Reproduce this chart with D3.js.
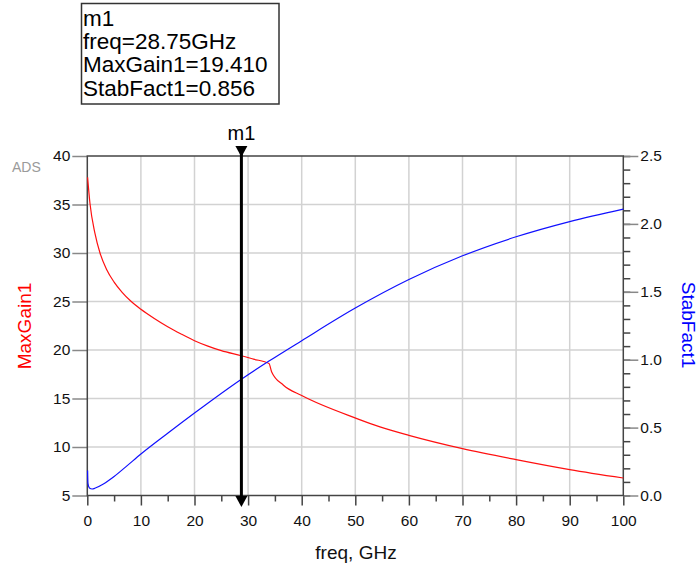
<!DOCTYPE html>
<html><head><meta charset="utf-8">
<script src="https://cdn.jsdelivr.net/npm/d3@7"></script>
<style>body{margin:0;background:#fff}svg{display:block}text{font-family:"Liberation Sans",Arial,sans-serif}</style>
</head><body>
<svg id="c" width="700" height="570"></svg>
<script>
// data
const gainFreq = [0.05,0.5,1.44,2.37,3.6,5,6.5,8,10,12.5,15,17.5,20,22.5,25,28.75,31,33.9,34.4,36.6,40,50.3,54.6,60,70,80,90,100];
const gainVal  = [37.8,35.1,32.0,30.0,28.3,27.0,25.95,25.1,24.2,23.25,22.4,21.65,20.96,20.4,19.93,19.41,19.06,18.6,17.74,16.37,15.3,12.93,12.07,11.2,9.83,8.7,7.67,6.8];
const stabFreq = [0.05,0.12,0.4,0.9,1.5,3,5,7.5,10,15,20,28.75,33.9,40,50,60,70,80,90,100];
const stabVal  = [0.184,0.09,0.055,0.048,0.055,0.085,0.14,0.222,0.305,0.458,0.607,0.856,0.99,1.14,1.38,1.59,1.765,1.905,2.017,2.109];
const xTicks = [0,10,20,30,40,50,60,70,80,90,100];
const xMinor = [5,15,25,35,45,55,65,75,85,95];
const yLTicks = [5,10,15,20,25,30,35,40];
const yRTicks = [0,0.5,1.0,1.5,2.0,2.5];
const yRMinor = d3.range(0,26).map(i=>i/10);
const markerFreq = 28.75;
const markerLines = ["m1","freq=28.75GHz","MaxGain1=19.410","StabFact1=0.856"];

const L=87.3, R=623.3, T=156, B=495.5;
const svg = d3.select("#c");
const x = d3.scaleLinear().domain([0,100]).range([L,R]);
const yL = d3.scaleLinear().domain([5,40]).range([B,T]);
const yR = d3.scaleLinear().domain([0,2.5]).range([B,T]);

// grid
svg.append("g").selectAll("line").data(xTicks.slice(1,-1)).join("line")
  .attr("x1",d=>x(d)).attr("x2",d=>x(d)).attr("y1",T).attr("y2",B)
  .attr("stroke","#d2d2d2").attr("stroke-width",1.5);
svg.append("g").selectAll("line").data(yLTicks.slice(1,-1)).join("line")
  .attr("y1",d=>yL(d)).attr("y2",d=>yL(d)).attr("x1",L).attr("x2",R)
  .attr("stroke","#d2d2d2").attr("stroke-width",1.5);

// axes
function styleAxis(g, tickColor){
  g.select(".domain").remove();
  g.selectAll(".tick line").attr("stroke",tickColor).attr("stroke-width",1.5);
  g.selectAll(".tick text").attr("fill","#111").style("font-size","15.5px");
}
const gl = svg.append("g").attr("transform",`translate(${L},0)`)
  .call(d3.axisLeft(yL).tickValues(yLTicks).tickSize(15).tickPadding(2).tickFormat(d3.format("d")));
styleAxis(gl,"#888");
const gb = svg.append("g").attr("transform",`translate(0,${B})`)
  .call(d3.axisBottom(x).tickValues(xTicks).tickSize(10).tickPadding(9).tickFormat(d3.format("d")));
styleAxis(gb,"#444");
const gbm = svg.append("g").attr("transform",`translate(0,${B})`)
  .call(d3.axisBottom(x).tickValues(xMinor).tickSize(6).tickFormat(""));
styleAxis(gbm,"#444");
const grm = svg.append("g").attr("transform",`translate(${R},0)`)
  .call(d3.axisRight(yR).tickValues(yRMinor).tickSize(7).tickFormat(""));
styleAxis(grm,"#444");
const gr = svg.append("g").attr("transform",`translate(${R},0)`)
  .call(d3.axisRight(yR).tickValues(yRTicks).tickSize(15).tickPadding(2).tickFormat(d3.format(".1f")));
styleAxis(gr,"#888");

// frame
svg.append("rect").attr("x",L).attr("y",T).attr("width",R-L).attr("height",B-T)
  .attr("fill","none").attr("stroke","#444").attr("stroke-width",1.5);

// curves
const gainLine = d3.line().x(d=>x(d[0])).y(d=>yL(d[1])).curve(d3.curveMonotoneX);
const stabLine = d3.line().x(d=>x(d[0])).y(d=>yR(d[1])).curve(d3.curveMonotoneX);
svg.append("path").datum(gainFreq.map((f,i)=>[f,gainVal[i]])).attr("d",gainLine)
  .attr("fill","none").attr("stroke","#ff1010").attr("stroke-width",1.2);
svg.append("path").datum(stabFreq.map((f,i)=>[f,stabVal[i]])).attr("d",stabLine)
  .attr("fill","none").attr("stroke","#1010ff").attr("stroke-width",1.2);

// marker
const mx = x(markerFreq);
svg.append("line").attr("x1",mx).attr("x2",mx).attr("y1",150).attr("y2",500)
  .attr("stroke","#000").attr("stroke-width",3);
svg.append("path").attr("d",`M${mx-6},146L${mx+6},146L${mx},157Z`).attr("fill","#000");
svg.append("path").attr("d",`M${mx-6},496L${mx+6},496L${mx},507Z`).attr("fill","#000");
svg.append("text").attr("x",mx).attr("y",140).attr("text-anchor","middle")
  .style("font-size","20px").attr("fill","#000").text("m1");

// marker box
svg.append("rect").attr("x",81.5).attr("y",3.5).attr("width",197.5).attr("height",100.5)
  .attr("fill","#fff").attr("stroke","#333").attr("stroke-width",1.5);
svg.append("g").selectAll("text").data(markerLines).join("text")
  .attr("x",83).attr("y",(d,i)=>26+i*23.2)
  .style("font-size","22.5px").attr("fill","#000").text(d=>d);

// labels
svg.append("text").attr("x",356).attr("y",559).attr("text-anchor","middle")
  .style("font-size","19px").attr("fill","#111").text("freq, GHz");
svg.append("text").attr("transform","translate(31,326) rotate(-90)").attr("text-anchor","middle")
  .style("font-size","19px").attr("fill","#ff0000").text("MaxGain1");
svg.append("text").attr("transform","translate(682,325) rotate(90)").attr("text-anchor","middle")
  .style("font-size","19px").attr("fill","#0000ff").text("StabFact1");
svg.append("text").attr("x",12).attr("y",172).style("font-size","14px")
  .attr("fill","#9a9a9a").text("ADS");
</script>
</body></html>
